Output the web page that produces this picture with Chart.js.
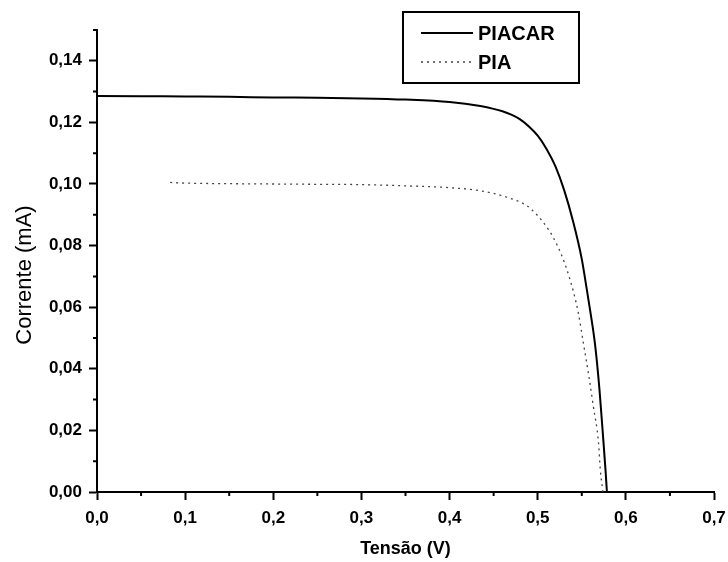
<!DOCTYPE html>
<html><head><meta charset="utf-8">
<script src="https://cdn.jsdelivr.net/npm/chart.js@4/dist/chart.umd.min.js"></script>
<style>html,body{margin:0;padding:0;background:#fff}#wrap{width:728px;height:562px}</style>
</head><body><div id="wrap"><canvas id="c" width="728" height="562"></canvas></div>
<script>
const seriesNames = ['PIACAR', 'PIA'];
const piacarV = [0.000, 0.050, 0.100, 0.150, 0.200, 0.250, 0.300, 0.350, 0.400, 0.435, 0.450, 0.460, 0.470, 0.480, 0.490, 0.500, 0.510, 0.520, 0.530, 0.540, 0.550, 0.556, 0.560, 0.565, 0.570, 0.574, 0.577, 0.5785];
const piacarI = [0.1286, 0.1285, 0.1284, 0.1283, 0.1281, 0.1280, 0.1278, 0.1274, 0.1266, 0.1253, 0.1244, 0.1236, 0.1225, 0.1210, 0.1187, 0.1157, 0.1114, 0.1058, 0.0980, 0.0880, 0.0756, 0.0652, 0.0580, 0.0480, 0.0335, 0.0185, 0.0068, 0.0000];
const piaV = [0.083, 0.100, 0.150, 0.200, 0.250, 0.300, 0.350, 0.400, 0.435, 0.465, 0.488, 0.499, 0.512, 0.522, 0.529, 0.535, 0.541, 0.546, 0.552, 0.558, 0.563, 0.569, 0.571, 0.574];
const piaI = [0.1005, 0.1003, 0.1001, 0.1000, 0.0999, 0.0998, 0.0994, 0.0988, 0.0978, 0.0957, 0.0929, 0.0900, 0.0853, 0.0802, 0.0755, 0.0705, 0.0645, 0.0582, 0.0480, 0.0376, 0.0280, 0.0159, 0.0072, 0.0000];
const xTickValues = [0, 0.1, 0.2, 0.3, 0.4, 0.5, 0.6, 0.7];
const xTickLabels = ['0,0', '0,1', '0,2', '0,3', '0,4', '0,5', '0,6', '0,7'];
const yTickValues = [0, 0.02, 0.04, 0.06, 0.08, 0.10, 0.12, 0.14];
const yTickLabels = ['0,00', '0,02', '0,04', '0,06', '0,08', '0,10', '0,12', '0,14'];
const xMinorValues = [0.05, 0.15, 0.25, 0.35, 0.45, 0.55, 0.65];
const yMinorValues = [0.01, 0.03, 0.05, 0.07, 0.09, 0.11, 0.13, 0.15];
const xTitle = 'Tensão (V)';
const yTitle = 'Corrente (mA)';

const FONT = '"Liberation Sans", Arial, sans-serif';
const toPts = (xs, ys) => xs.map((x, i) => ({ x: x, y: ys[i] }));

const minorTicks = {
  id: 'minorTicks',
  afterDraw(chart) {
    const { ctx, scales: { x, y }, chartArea } = chart;
    ctx.save();
    ctx.strokeStyle = '#000';
    ctx.lineWidth = 2;
    ctx.beginPath();
    xMinorValues.forEach(v => {
      const px = x.getPixelForValue(v);
      ctx.moveTo(px, chartArea.bottom);
      ctx.lineTo(px, chartArea.bottom + 4);
    });
    yMinorValues.forEach(v => {
      const py = y.getPixelForValue(v);
      ctx.moveTo(chartArea.left, py);
      ctx.lineTo(chartArea.left - 4, py);
    });
    ctx.stroke();
    ctx.restore();
  }
};

const yTitlePlugin = {
  id: 'yTitlePlugin',
  afterDraw(chart) {
    const { ctx, chartArea } = chart;
    ctx.save();
    ctx.translate(25, (chartArea.top + chartArea.bottom) / 2 + 14);
    ctx.rotate(-Math.PI / 2);
    ctx.textAlign = 'center';
    ctx.textBaseline = 'middle';
    ctx.fillStyle = '#000';
    ctx.font = '22px ' + FONT;
    ctx.fillText(yTitle, 0, 0);
    ctx.restore();
  }
};

const boxLegend = {
  id: 'boxLegend',
  afterDraw(chart) {
    const { ctx, chartArea } = chart;
    const left = chartArea.left + 306, top = chartArea.top - 18;
    const w = 176, h = 71;
    ctx.save();
    ctx.fillStyle = '#fff';
    ctx.fillRect(left, top, w, h);
    ctx.strokeStyle = '#000';
    ctx.lineWidth = 2;
    ctx.strokeRect(left, top, w, h);
    chart.data.datasets.forEach((ds, i) => {
      const cy = top + 21 + i * 29;
      ctx.beginPath();
      ctx.strokeStyle = ds.borderColor;
      ctx.lineWidth = ds.borderWidth;
      ctx.setLineDash(ds.borderDash || []);
      ctx.moveTo(left + 18, cy);
      ctx.lineTo(left + 70, cy);
      ctx.stroke();
      ctx.setLineDash([]);
      ctx.fillStyle = '#000';
      ctx.font = 'bold 20px ' + FONT;
      ctx.textBaseline = 'middle';
      ctx.textAlign = 'left';
      ctx.fillText(ds.label, left + 75, cy + 1);
    });
    ctx.restore();
  }
};

new Chart(document.getElementById('c'), {
  type: 'scatter',
  data: {
    datasets: [
      { label: seriesNames[0], data: toPts(piacarV, piacarI), showLine: true, borderColor: '#000', borderWidth: 2, pointRadius: 0, cubicInterpolationMode: 'monotone' },
      { label: seriesNames[1], data: toPts(piaV, piaI), showLine: true, borderColor: '#444', borderWidth: 1.3, borderDash: [2, 4], pointRadius: 0, cubicInterpolationMode: 'monotone' }
    ]
  },
  options: {
    responsive: false,
    animation: false,
    devicePixelRatio: 1,
    layout: { padding: { top: 30, right: 14, left: 0, bottom: 0 } },
    plugins: { legend: { display: false }, tooltip: { enabled: false } },
    scales: {
      x: {
        type: 'linear', min: 0, max: 0.7,
        afterBuildTicks: s => { s.ticks = xTickValues.map(v => ({ value: v })); },
        afterFit: s => { s.height = 70; s.paddingLeft = 0; s.paddingRight = 0; },
        ticks: { callback: (v, i) => xTickLabels[i], color: '#000', font: { family: FONT, size: 17, weight: 'bold' }, padding: 8, maxRotation: 0, autoSkip: false },
        grid: { display: true, drawOnChartArea: false, drawTicks: true, tickLength: 8, tickWidth: 2, tickColor: '#000' },
        border: { display: true, color: '#000', width: 2 },
        title: { display: true, text: xTitle, color: '#000', font: { family: FONT, size: 18, weight: 'bold' }, padding: { top: 0, bottom: 2 } }
      },
      y: {
        type: 'linear', min: 0, max: 0.15,
        afterBuildTicks: s => { s.ticks = yTickValues.map(v => ({ value: v })); },
        afterFit: s => { s.width = 97; s.paddingTop = 0; s.paddingBottom = 0; },
        ticks: { callback: (v, i) => yTickLabels[i], color: '#000', font: { family: FONT, size: 17, weight: 'bold' }, padding: 7, autoSkip: false },
        grid: { display: true, drawOnChartArea: false, drawTicks: true, tickLength: 8, tickWidth: 2, tickColor: '#000' },
        border: { display: true, color: '#000', width: 2 },
        title: { display: false }
      }
    }
  },
  plugins: [minorTicks, yTitlePlugin, boxLegend]
});
</script></body></html>
